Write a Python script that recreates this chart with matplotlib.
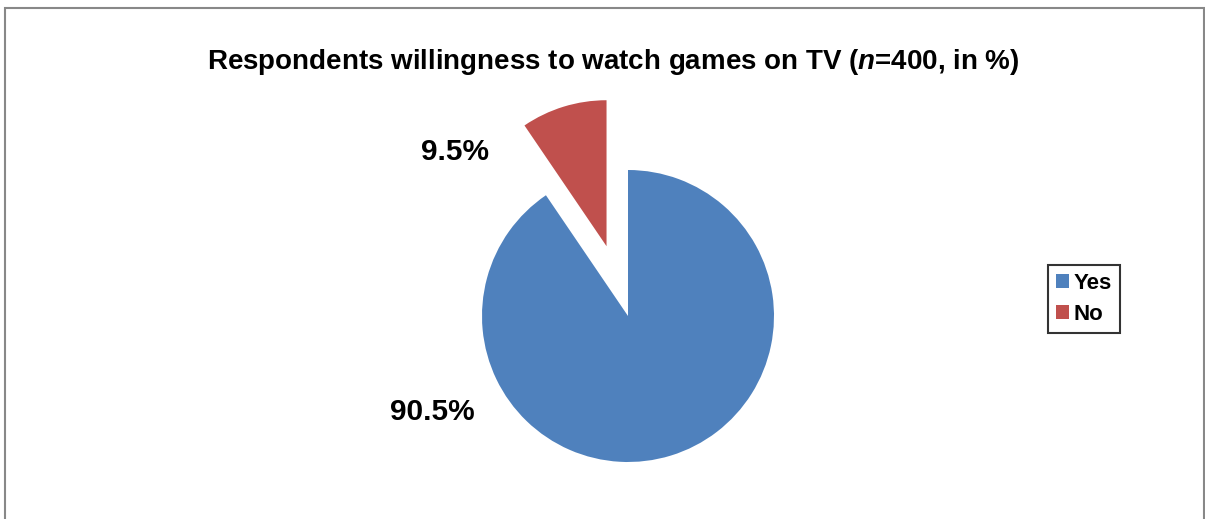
import matplotlib.pyplot as plt
from matplotlib.patches import Rectangle

# willingness to watch games on TV, n=400
labels = ["Yes", "No"]
shares = [90.5, 9.5]
colors = ["#4F81BD", "#C0504D"]

plt.rcParams["font.family"] = ["Liberation Sans", "DejaVu Sans"]
plt.rcParams["mathtext.fontset"] = "custom"
plt.rcParams["mathtext.it"] = "Liberation Sans:italic:bold"

W, H = 1205, 519
fig = plt.figure(figsize=(W / 100, H / 100), dpi=100)

# one data unit = pie radius, pixel-based limits
r_px = 146
cx, cy = 628, H - 316
ax = fig.add_axes([0, 0, 1, 1])

wedges, _ = ax.pie(shares, colors=colors, startangle=90, counterclock=False,
                   explode=[0, 0.5], radius=1,
                   wedgeprops=dict(linewidth=0))
ax.set_aspect("auto")
ax.set_xlim(-cx / r_px, (W - cx) / r_px)
ax.set_ylim(-cy / r_px, (H - cy) / r_px)
ax.axis("off")

# value labels
def px(x, y):
    return (x - cx) / r_px, (H - y - cy) / r_px

for val, (x, y) in zip(shares, [(432, 412), (455, 152)]):
    ax.text(*px(x, y), f"{val}%", ha="center", va="center",
            fontsize=21.5, fontweight="bold")

fig.text(613 / W, 1 - 62 / H,
         "Respondents willingness to watch games on TV ($\\it{n}$=400, in %)",
         ha="center", va="center", fontsize=20, fontweight="bold")

leg = fig.legend(wedges, labels, loc="center", bbox_to_anchor=(1084 / W, 1 - 299 / H),
                 frameon=True, fancybox=False, handlelength=0.6, handleheight=0.6,
                 handletextpad=0.2, borderpad=0.35, labelspacing=0.45,
                 prop=dict(weight="bold", size=16))
leg.get_frame().set_edgecolor("black")
leg.get_frame().set_linewidth(1.5)

# chart area outline
fig.patches.append(Rectangle((5 / W, -0.05), 1199 / W, 1.05 - 8 / H,
                             transform=fig.transFigure, fill=False,
                             edgecolor="#888888", linewidth=1.5))

fig.savefig("out.png", dpi=100, facecolor="white")
